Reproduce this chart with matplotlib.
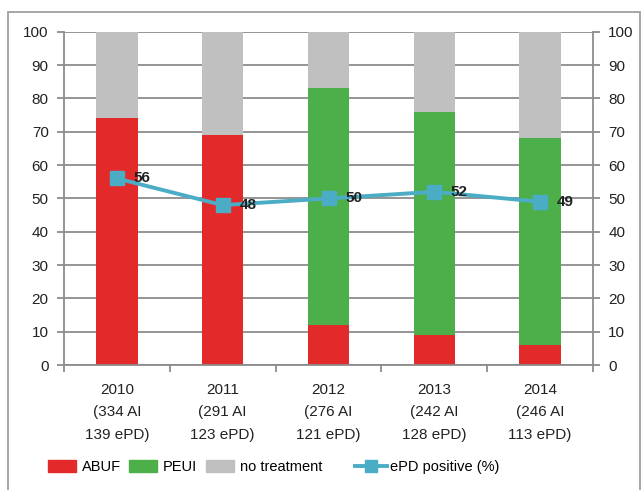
import matplotlib.pyplot as plt
from matplotlib.patches import Rectangle
from matplotlib.lines import Line2D
import numpy as np

plt.rcParams['font.family'] = ['Liberation Sans', 'DejaVu Sans']

# yearly shares (%) of treatment groups and ePD positivity
years = ["2010\n(334 AI\n139 ePD)", "2011\n(291 AI\n123 ePD)", "2012\n(276 AI\n121 ePD)",
         "2013\n(242 AI\n128 ePD)", "2014\n(246 AI\n113 ePD)"]
abuf = [74, 69, 12, 9, 6]
peui = [0, 0, 71, 67, 62]
no_treatment = [26, 31, 17, 24, 32]
epd_positive = [56, 48, 50, 52, 49]

red = "#e32a2a"
green = "#4caf4a"
grey = "#c0c0c0"
blue = "#4bacc6"
axis_col = "#8c8c8c"
txt_col = "#222222"

fig = plt.figure(figsize=(6.43, 4.9), dpi=100)
ax = fig.add_axes([64 / 643, 0.255, 529 / 643, 0.68])

x = np.arange(len(years))
w = 0.39
ax.bar(x, abuf, w, color=red, zorder=2)
ax.bar(x, peui, w, bottom=abuf, color=green, zorder=2)
ax.bar(x, no_treatment, w, bottom=np.add(abuf, peui), color=grey, zorder=2)

ax.set_xlim(-0.5, len(years) - 0.5)
ax.set_ylim(0, 100)
ax.set_yticks(range(0, 101, 10))
ax.yaxis.grid(True, color=axis_col, lw=1.3, zorder=0)
ax.set_axisbelow(True)

ax.spines["top"].set_visible(False)
for s in ["left", "right", "bottom"]:
    ax.spines[s].set_color(axis_col)
    ax.spines[s].set_linewidth(1.3)

ax.set_xticks(x)
ax.set_xticklabels(years, fontsize=11, linespacing=1.75, color=txt_col)
ax.tick_params(axis="x", length=0, pad=13)
ax.set_xticks(np.arange(-0.5, len(years)), minor=True)
ax.tick_params(axis="x", which="minor", length=5, color=axis_col, width=1.3)
ax.tick_params(axis="y", labelsize=11, length=5, color=axis_col, width=1.3,
               labelcolor=txt_col, pad=6)

ax2 = ax.twinx()
ax2.set_ylim(0, 100)
ax2.set_yticks(range(0, 101, 10))
ax2.tick_params(axis="y", labelsize=11, length=5, color=axis_col, width=1.3,
                labelcolor=txt_col, pad=6)
for s in ax2.spines.values():
    s.set_visible(False)

ax2.plot(x, epd_positive, color=blue, lw=2.8, marker="s", ms=9.5, zorder=5)
for xi, v in zip(x, epd_positive):
    ax2.annotate(str(v), (xi, v), xytext=(12, 0), textcoords="offset points",
                 va="center", ha="left", fontsize=11, fontweight="bold",
                 color=txt_col, zorder=6)

# outer chart border
fig.patches.append(Rectangle((8 / 643, -0.05), 632 / 643, 1.05 - 12 / 490,
                             transform=fig.transFigure, fill=False,
                             edgecolor="#a0a0a0", lw=1.3))

bar_handles = [Rectangle((0, 0), 1, 1, color=c) for c in (red, green, grey)]
fig.legend(bar_handles, ["ABUF", "PEUI", "no treatment"], ncol=3, frameon=False,
           loc="center left", bbox_to_anchor=(48 / 643, 1 - 467 / 490),
           fontsize=10.5, handlelength=1.9, handleheight=0.9, columnspacing=0.6,
           handletextpad=0.4, borderaxespad=0, borderpad=0)
line_handle = Line2D([], [], color=blue, lw=2.8, marker="s", ms=8)
fig.legend([line_handle], ["ePD positive (%)"], frameon=False,
           loc="center left", bbox_to_anchor=(355 / 643, 1 - 467 / 490),
           fontsize=10.5, handlelength=2.2, handletextpad=0.2,
           borderaxespad=0, borderpad=0)

fig.savefig("out.png", dpi=100)
